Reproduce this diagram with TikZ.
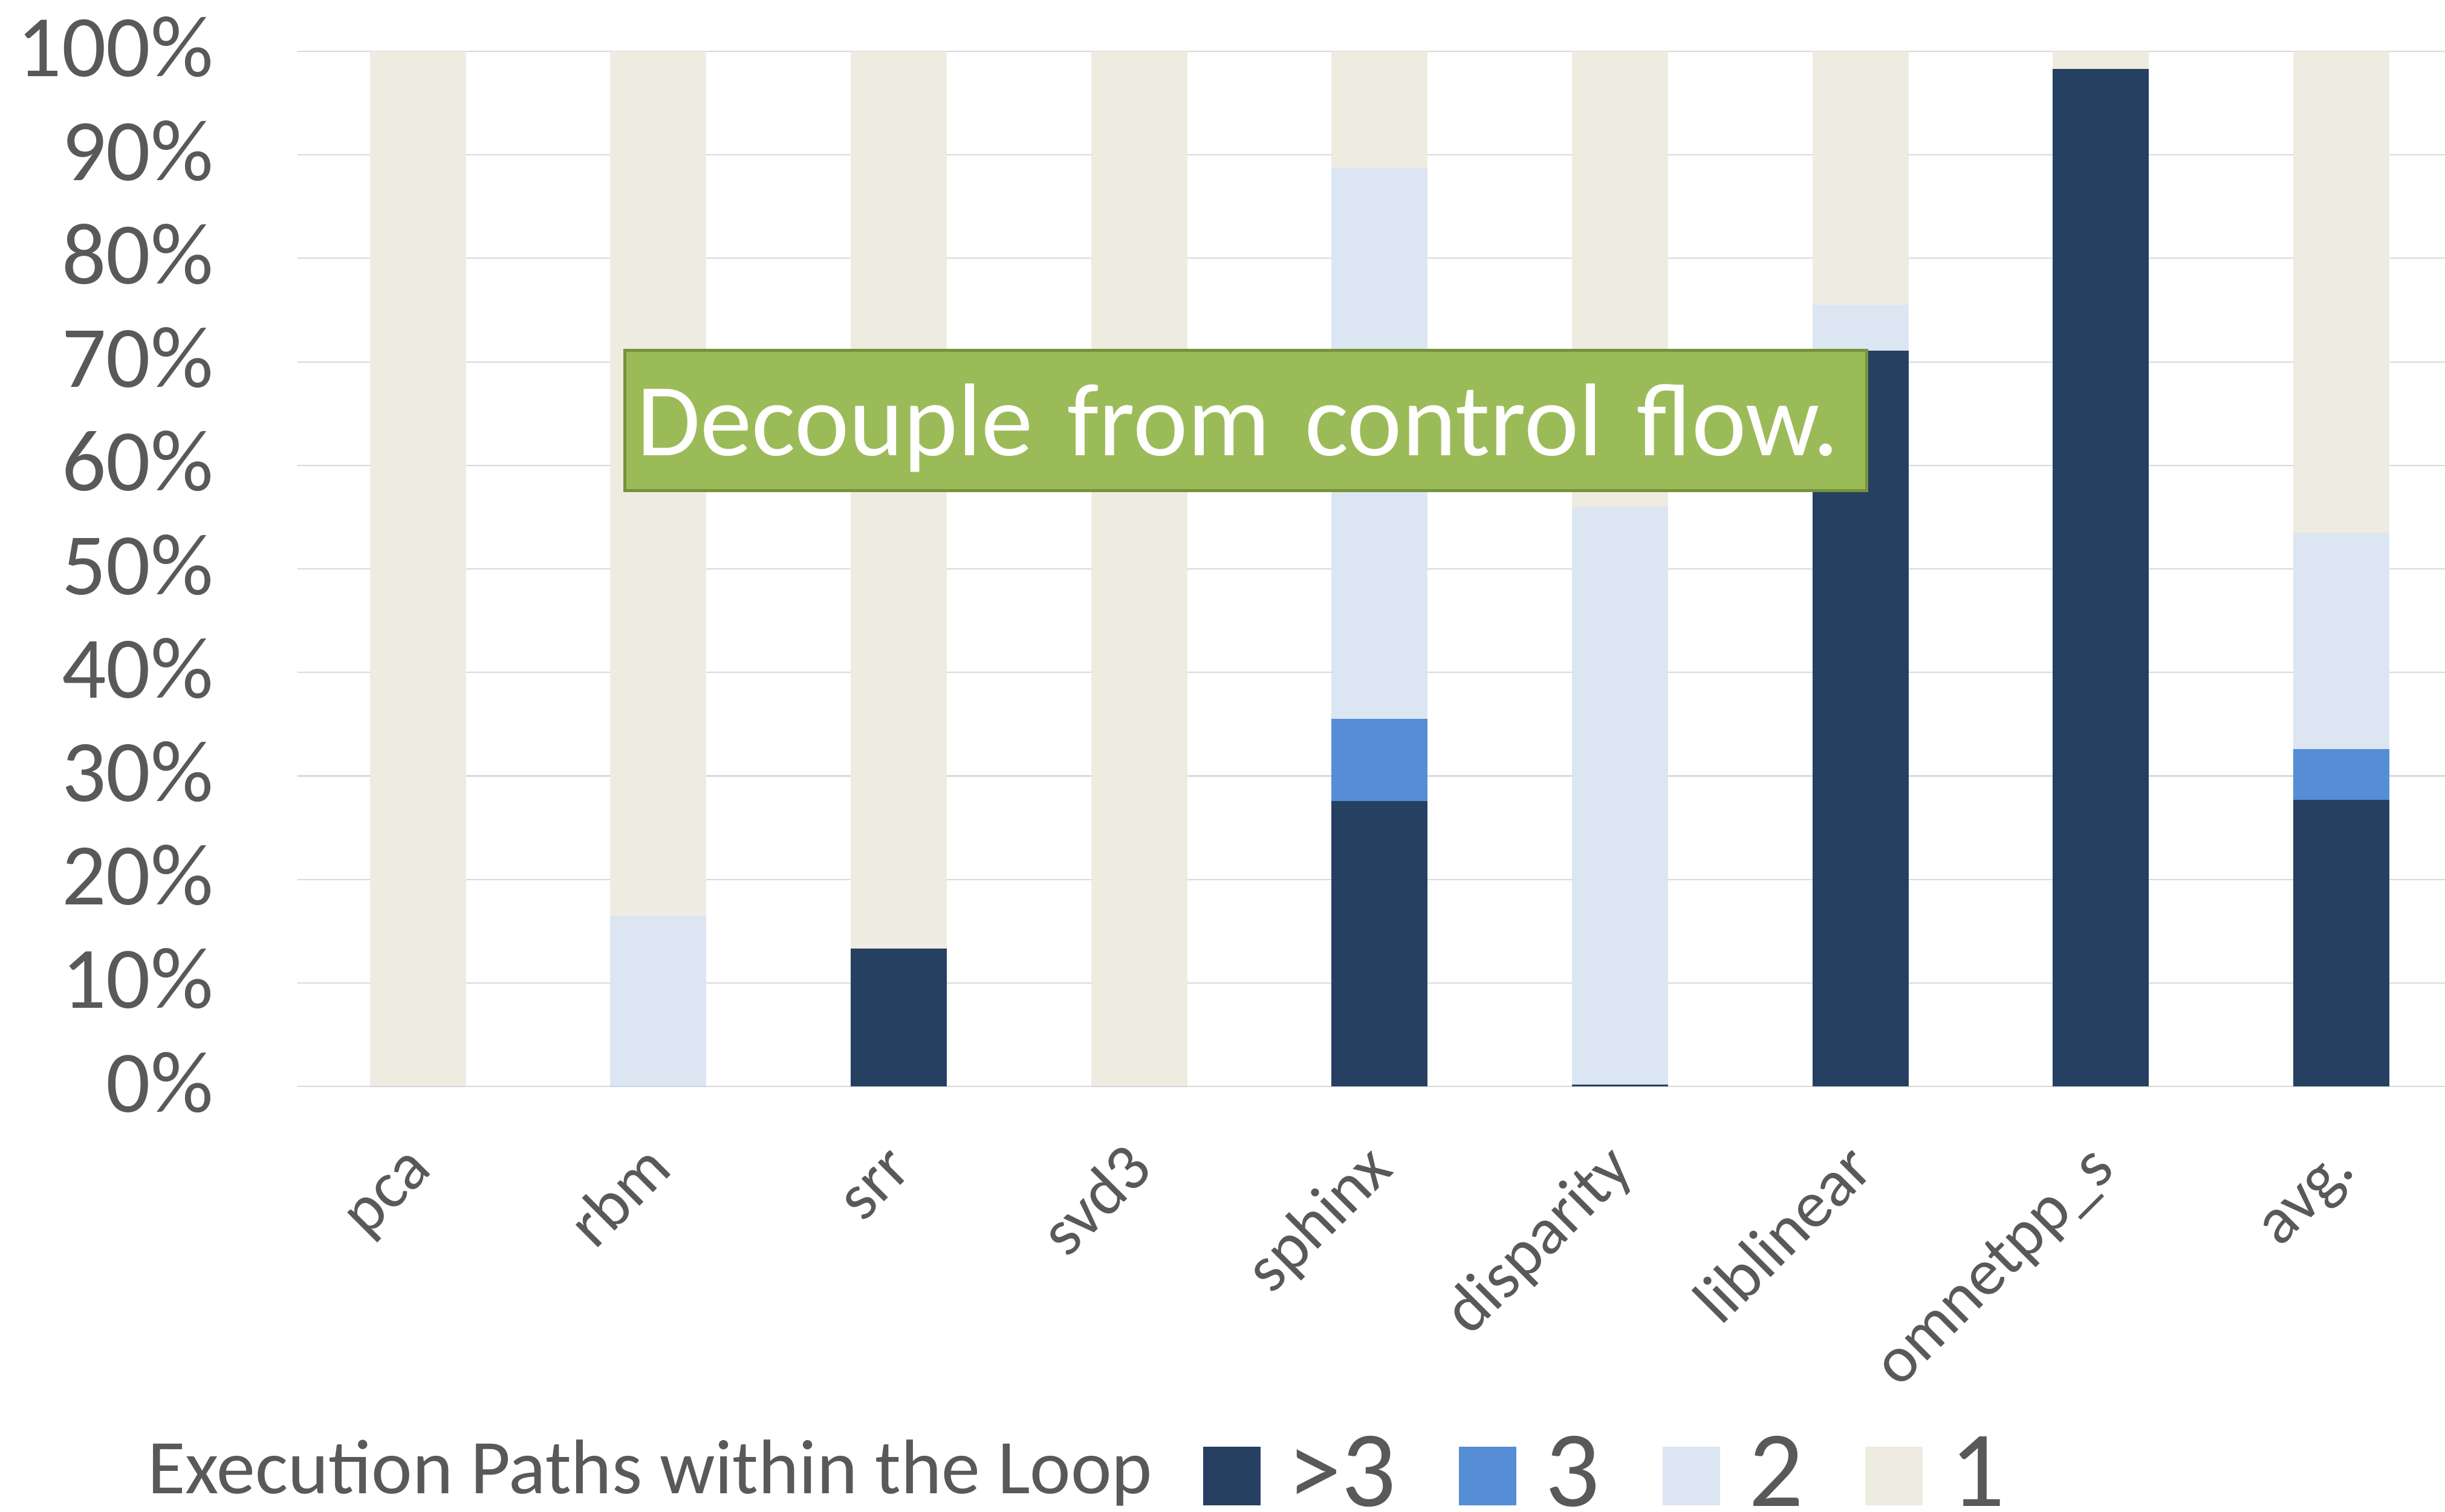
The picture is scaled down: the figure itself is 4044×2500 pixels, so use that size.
\documentclass[tikz,border=0pt]{standalone}
\usepackage{fontspec}
\setmainfont{Carlito}
\definecolor{gridgray}{HTML}{D9D9D9}
\definecolor{labelgray}{HTML}{595959}
\definecolor{pathsmany}{HTML}{264061}
\definecolor{pathsthree}{HTML}{558ED5}
\definecolor{pathstwo}{HTML}{DCE6F2}
\definecolor{pathsone}{HTML}{EEECE1}
\definecolor{calloutfill}{HTML}{9BBB59}
\definecolor{calloutedge}{HTML}{76923C}

\begin{document}
\begin{tikzpicture}[x=0.1pt,y=-0.1pt,
  gridline/.style={draw=gridgray, line width=0.22pt},
  ticklabel/.style={anchor=base east, inner sep=0, text=labelgray,
    font=\fontsize{14.5}{17}\selectfont},
  catlabel/.style={anchor=base east, rotate=45, inner sep=0, text=labelgray,
    font=\fontsize{11}{13}\selectfont},
  callout/.style={draw=calloutedge, line width=0.5pt, fill=calloutfill,
    text=white, font=\fontsize{17.1}{20}\selectfont,
    minimum width=205.4pt, minimum height=23.2pt, inner xsep=1.95pt, inner ysep=0pt,
    text width=201.5pt, align=left, text height=11.5pt, text depth=0pt},
  legtext/.style={anchor=base west, inner sep=0, text=labelgray,
    font=\fontsize{12.8}{15}\selectfont},
  legnum/.style={anchor=base west, inner sep=0, text=labelgray,
    font=\fontsize{17.9}{21}\selectfont},
  legkey/.style={minimum width=9.5pt, minimum height=9.7pt, inner sep=0pt}
]
\useasboundingbox (0,0) rectangle (4044,2500);

% horizontal gridlines and percentage ticks (0% at y=1797, 10% per 171.2 units)
\foreach \k in {0,...,10} {
  \pgfmathtruncatemacro\pct{10*\k}
  \draw[gridline] (492,{1797-171.2*\k}) -- (4044,{1797-171.2*\k});
  \node[ticklabel] (tick\k) at (355,{1797-171.2*\k+42}) {\pct\%};
}

% stacked bars: cumulative tops of the >3, 3 and 2 segments; the rest is 1
\foreach \i/\a/\b/\c in {0/0/0/0, 1/0/0/16.5, 2/13.3/13.3/13.3, 3/0/0/0,
    4/27.6/35.5/88.8, 5/0.2/0.2/56.0, 6/71.1/71.1/75.5, 7/98.3/98.3/98.3,
    8/27.7/32.6/53.5} {
  \pgfmathsetmacro\cx{691+397.7*\i}
  \fill[pathsone]   ({\cx-79.5},85) rectangle ({\cx+79.5},{1797-17.12*\c});
  \fill[pathstwo]   ({\cx-79.5},{1797-17.12*\c}) rectangle ({\cx+79.5},{1797-17.12*\b});
  \fill[pathsthree] ({\cx-79.5},{1797-17.12*\b}) rectangle ({\cx+79.5},{1797-17.12*\a});
  \fill[pathsmany]  ({\cx-79.5},{1797-17.12*\a}) rectangle ({\cx+79.5},1797);
}

% category labels
\foreach \name [count=\i from 0] in {pca,rbm,srr,svd3,sphinx,disparity,liblinear,omnetpp\_s,avg.} {
  \node[catlabel] (cat\i) at ({691+397.7*\i+27},1937) {\name};
}

% annotation box
\node[callout] (note) at (2060.5,695.5) {Decouple from control flow.};

% legend
\node[legtext] (legtitle) at (242,2470) {Execution Paths within the Loop};
\node[legkey, fill=pathsmany]  (keymany)  at (2037,2441.5) {};
\node[legkey, fill=pathsthree] (keythree) at (2460,2441.5) {};
\node[legkey, fill=pathstwo]   (keytwo)   at (2797,2441.5) {};
\node[legkey, fill=pathsone]   (keyone)   at (3132,2441.5) {};
\node[legnum] (nummany)  at (2127,2491) {>3};
\node[legnum] (numthree) at (2553,2491) {3};
\node[legnum] (numtwo)   at (2890,2491) {2};
\node[legnum] (numone)   at (3223,2491) {1};
\end{tikzpicture}
\end{document}
